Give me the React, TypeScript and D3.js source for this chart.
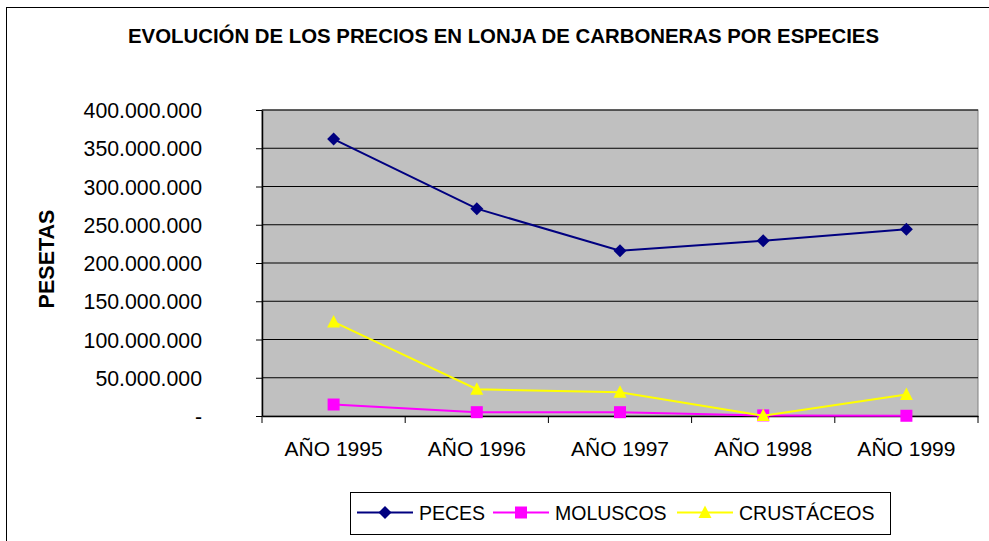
import React, { useRef, useEffect } from 'react';
import * as d3 from 'd3';

// Chart data
const categories = ['AÑO 1995', 'AÑO 1996', 'AÑO 1997', 'AÑO 1998', 'AÑO 1999'];
const peces = [362000000, 271000000, 216000000, 229000000, 244000000];
const moluscos = [15000000, 5000000, 5000000, 800000, 300000];
const crustaceos = [123000000, 35000000, 31000000, 500000, 28000000];
const yTicks = [0, 50000000, 100000000, 150000000, 200000000, 250000000, 300000000, 350000000, 400000000];

const seriesNames = ['PECES', 'MOLUSCOS', 'CRUSTÁCEOS'];
const seriesColors = ['#000080', '#FF00FF', '#FFFF00'];
const seriesShapes = ['diamond', 'square', 'triangle'];

const FONT = '"Liberation Sans", Arial, sans-serif';

const markerPath = (shape: string) => {
    if (shape === 'diamond') return 'M0,-6.5L6.5,0L0,6.5L-6.5,0Z';
    if (shape === 'square') return 'M-6,-6H6V6H-6Z';
    return 'M0,-7L6.5,5.5L-6.5,5.5Z';
};

const App = () => {
    const svgRef = useRef<SVGSVGElement>(null);

    useEffect(() => {
        const width = 989;
        const height = 541;
        const plotLeft = 262;
        const plotRight = 978;
        const plotTop = 110;
        const plotBottom = 416;

        const svg = d3.select(svgRef.current)
            .attr('width', width)
            .attr('height', height)
            .style('position', 'absolute')
            .style('left', 0)
            .style('top', 0)
            .style('font-family', FONT);

        svg.selectAll('*').remove();

        // Outer chart frame
        svg.append('rect')
            .attr('x', 6.5).attr('y', 7.5)
            .attr('width', 1000).attr('height', 600)
            .attr('fill', '#fff')
            .attr('stroke', '#000');

        // Title
        svg.append('text')
            .attr('x', 503.5).attr('y', 43)
            .attr('text-anchor', 'middle')
            .attr('font-weight', 'bold')
            .attr('font-size', 20)
            .attr('textLength', 751)
            .attr('lengthAdjust', 'spacingAndGlyphs')
            .text('EVOLUCIÓN DE LOS PRECIOS EN LONJA DE CARBONERAS POR ESPECIES');

        const x = d3.scaleBand()
            .domain(categories)
            .range([plotLeft, plotRight]);

        const y = d3.scaleLinear()
            .domain([0, 400000000])
            .range([plotBottom, plotTop]);

        const locale = d3.formatLocale({ decimal: ',', thousands: '.', grouping: [3], currency: ['', ''] });
        const fmt = (v: number) => (v === 0 ? '-' : locale.format(',d')(v));

        // Plot area background
        svg.append('rect')
            .attr('x', plotLeft).attr('y', plotTop)
            .attr('width', plotRight - plotLeft).attr('height', plotBottom - plotTop)
            .attr('fill', '#C0C0C0')
            .attr('stroke', '#808080');

        // Gridlines
        svg.append('g')
            .selectAll('line')
            .data(yTicks.filter(t => t > 0))
            .join('line')
            .attr('x1', plotLeft).attr('x2', plotRight)
            .attr('y1', d => y(d)).attr('y2', d => y(d))
            .attr('stroke', '#000')
            .attr('stroke-width', 1.2);

        // Y axis
        const yAxis = svg.append('g')
            .attr('transform', `translate(${plotLeft},0)`)
            .call(d3.axisLeft(y).tickValues(yTicks).tickSize(6).tickSizeOuter(0).tickFormat(d => fmt(+d)));
        yAxis.select('.domain').attr('stroke', '#000').attr('stroke-width', 1.5);
        yAxis.selectAll('.tick line').attr('stroke', '#000');
        yAxis.selectAll('.tick text')
            .attr('x', 202 - plotLeft)
            .attr('dy', 7.5)
            .attr('text-anchor', 'end')
            .attr('font-family', FONT)
            .attr('font-size', 21.3)
            .attr('fill', '#000');

        // X axis
        const xAxis = svg.append('g')
            .attr('transform', `translate(0,${plotBottom})`)
            .call(d3.axisBottom(x).tickSize(0).tickSizeOuter(0));
        xAxis.select('.domain').attr('stroke', '#000').attr('stroke-width', 1.5);
        xAxis.selectAll('.tick text')
            .attr('y', 39.5)
            .attr('dy', 0)
            .attr('font-family', FONT)
            .attr('font-size', 21)
            .attr('fill', '#000');
        xAxis.append('g')
            .selectAll('line')
            .data([...categories.map(c => x(c) as number), plotRight])
            .join('line')
            .attr('x1', d => d).attr('x2', d => d)
            .attr('y1', 0).attr('y2', 7)
            .attr('stroke', '#000');

        // Y axis title
        svg.append('text')
            .attr('transform', 'translate(54,259) rotate(-90)')
            .attr('text-anchor', 'middle')
            .attr('font-weight', 'bold')
            .attr('font-size', 21.5)
            .text('PESETAS');

        // Series
        const allSeries = [peces, moluscos, crustaceos];
        const line = d3.line<number>()
            .x((_, i) => (x(categories[i]) as number) + x.bandwidth() / 2)
            .y(d => y(d));

        allSeries.forEach((values, si) => {
            const g = svg.append('g');
            g.append('path')
                .datum(values)
                .attr('fill', 'none')
                .attr('stroke', seriesColors[si])
                .attr('stroke-width', 2)
                .attr('d', line);
            g.selectAll('path.marker')
                .data(values)
                .join('path')
                .attr('class', 'marker')
                .attr('transform', (d, i) => `translate(${(x(categories[i]) as number) + x.bandwidth() / 2},${y(d)})`)
                .attr('d', markerPath(seriesShapes[si]))
                .attr('fill', seriesColors[si]);
        });

        // Legend
        svg.append('rect')
            .attr('x', 350.5).attr('y', 492.5)
            .attr('width', 540).attr('height', 42)
            .attr('fill', '#fff')
            .attr('stroke', '#000');

        const legendX = [357, 493, 677];
        const legendY = 512.5;
        seriesNames.forEach((name, si) => {
            const lx = legendX[si];
            const g = svg.append('g');
            g.append('line')
                .attr('x1', lx).attr('x2', lx + 56)
                .attr('y1', legendY).attr('y2', legendY)
                .attr('stroke', seriesColors[si])
                .attr('stroke-width', 2);
            g.append('path')
                .attr('transform', `translate(${lx + 28},${legendY})`)
                .attr('d', markerPath(seriesShapes[si]))
                .attr('fill', seriesColors[si]);
            g.append('text')
                .attr('x', lx + 62).attr('y', 519.5)
                .attr('font-size', 19.5)
                .attr('fill', '#000')
                .text(name);
        });
    }, []);

    return <svg ref={svgRef}></svg>;
};

export default App;
